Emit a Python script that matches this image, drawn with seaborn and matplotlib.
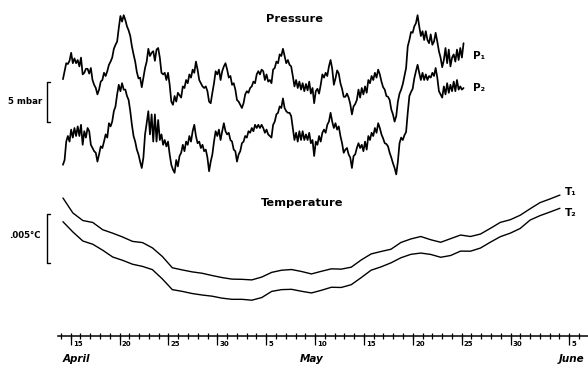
import numpy as np
import pandas as pd
import matplotlib
matplotlib.use("Agg")
import matplotlib.pyplot as plt
import seaborn as sns

# ---------------- data (days counted from 31 March: Apr 15 = 15, May 5 = 35, Jun 5 = 66)
p_start, p_end = 14.21, 55.19          # pressure record, sampled evenly (about every 4 h)
t_start, t_end = 14.21, 65.05          # temperature record, sampled evenly (about daily)

# pressure, mbar (arbitrary zero)
p1 = [12.6, 13.6, 14.6, 14.5, 14.9, 15.9, 14.6, 15.2, 14.6, 15.0,
      14.2, 15.3, 13.2, 13.4, 13.9, 13.9, 13.3, 14.0, 12.5, 11.9,
      11.5, 10.7, 11.3, 12.3, 12.5, 13.4, 13.0, 13.6, 14.4, 14.8,
      15.3, 16.4, 16.9, 17.3, 19.0, 20.5, 19.8, 20.6, 20.0, 19.2,
      18.7, 18.0, 16.7, 15.7, 14.8, 13.5, 12.7, 12.8, 11.6, 12.8,
      14.0, 14.8, 16.4, 15.5, 15.9, 16.1, 14.9, 16.3,
      16.5, 15.3, 13.4, 13.2, 13.4, 12.5, 13.4, 11.9, 9.8, 9.4,
      10.5, 9.8, 10.9, 10.6, 10.3, 11.7, 11.5, 12.5, 12.1, 13.2,
      12.8, 13.8, 13.4, 14.8, 13.8, 12.5, 12.1, 11.7, 11.5, 11.7,
      11.1, 9.8, 9.6, 10.9, 12.1, 13.6, 13.2, 13.8, 12.5, 13.6,
      14.2, 14.6, 13.8, 12.8, 13.0, 11.9, 12.1, 11.3, 10.0, 9.8,
      9.4, 9.0, 9.6, 10.7, 11.1, 10.9, 11.5, 11.7, 12.3, 12.1,
      13.2,
      13.6, 13.2, 13.8, 13.6, 12.5, 13.2, 12.3, 12.5, 12.1, 13.8,
      14.0, 14.8, 14.6, 15.7, 15.5, 16.4, 15.5, 14.6, 15.0, 14.4,
      14.2, 13.0, 11.7, 12.5, 11.5, 12.3, 11.3, 12.1, 11.1, 12.0,
      11.2, 12.3, 10.8, 11.5, 9.6, 11.1, 11.4, 10.8, 11.9, 13.2,
      12.8, 13.4, 13.0, 14.2, 15.0, 13.9, 11.9, 12.7, 13.7, 13.3,
      12.1, 11.4, 10.4, 10.4, 10.8, 10.3, 9.5, 8.2, 9.2, 9.5,
      10.0,
      11.3, 10.3, 11.5, 10.7, 11.7, 10.9, 12.5, 12.1, 13.0, 12.5,
      13.4, 12.8, 13.8, 13.2, 12.3, 11.6, 11.3, 10.5, 10.4, 10.0,
      8.8, 8.2, 7.3, 8.0, 9.8, 10.8, 11.3, 12.0, 13.0, 14.0,
      16.7, 17.5, 18.5, 18.4, 19.2, 19.6, 20.6, 19.2, 18.0, 18.6,
      17.5, 18.6, 17.5, 17.1, 18.2, 16.9, 17.3, 18.4, 17.3, 16.1,
      15.3, 14.1, 15.0, 16.5, 14.6, 16.3, 14.2, 15.3, 15.7, 14.8,
      16.3, 15.0, 16.5, 15.3, 17.1]

p2 = [1.9, 2.5, 4.8, 5.5, 4.8, 6.3, 5.3, 6.5, 5.5, 6.7,
      5.5, 6.9, 4.4, 6.1, 5.3, 6.5, 6.1, 4.4, 4.0, 3.6,
      3.4, 2.3, 3.2, 4.2, 4.0, 4.8, 5.7, 5.3, 7.1, 6.7,
      7.3, 8.6, 9.2, 10.7, 11.9, 11.1, 12.1, 11.3, 11.3, 10.5,
      10.0, 8.6, 6.9, 5.5, 4.8, 3.8, 3.2, 2.3, 1.5, 2.8,
      5.7, 7.1, 8.6, 5.7, 8.2, 4.8, 8.2, 4.8,
      7.5, 5.0, 5.7, 4.4, 5.0, 4.2, 4.8, 3.2, 1.9, 1.3,
      0.9, 2.5, 1.7, 3.0, 3.4, 4.4, 3.6, 4.8, 4.4, 5.5,
      4.8, 6.1, 6.9, 5.5, 4.6, 4.8, 4.0, 4.4, 3.6, 3.8,
      2.8, 1.1, 2.3, 3.2, 4.8, 6.1, 5.5, 6.3, 5.0, 6.1,
      7.1, 6.1, 5.7, 5.9, 5.0, 4.8, 3.8, 3.6, 2.3, 3.2,
      3.6, 4.6, 4.8, 5.5, 5.3, 6.1, 5.9, 6.5, 6.1, 6.9,
      6.5,
      6.9, 6.5, 6.9, 6.5, 5.9, 6.3, 5.7, 5.5, 5.3, 6.9,
      7.3, 8.2, 8.4, 9.2, 9.0, 10.2, 9.0, 8.6, 8.4, 8.4,
      8.0, 6.5, 5.0, 5.9, 4.8, 6.1, 5.0, 6.1, 5.0, 5.7,
      5.0, 5.9, 4.6, 5.0, 3.0, 4.8, 4.4, 5.5, 4.8, 5.9,
      6.3, 5.9, 6.9, 7.3, 8.4, 7.3, 6.5, 7.1, 6.3, 6.7,
      5.5, 4.6, 3.4, 3.8, 4.0, 3.2, 2.8, 1.5, 3.0, 3.2,
      4.0,
      4.6, 4.0, 4.4, 3.6, 4.8, 3.8, 5.5, 5.0, 5.9, 5.5,
      6.5, 5.9, 7.1, 6.5, 5.7, 5.2, 4.6, 4.5, 4.2, 3.4,
      2.8, 2.1, 1.5, 0.7, 2.3, 4.6, 5.3, 5.0, 5.6, 6.0,
      8.4, 10.5, 11.0, 11.4, 12.7, 13.6, 14.4, 13.4, 12.5, 13.4,
      12.5, 13.2, 12.5, 13.0, 12.8, 13.4, 13.0, 14.0, 12.8, 11.1,
      10.7, 10.3, 11.7, 10.7, 12.1, 10.9, 11.9, 11.1, 12.3, 11.1,
      12.5, 11.3, 11.7, 11.3, 11.5]

# temperature, thousandths of a degree C (arbitrary zero)
t1 = [10.92, 9.39, 8.62, 8.42, 7.68, 7.33, 6.94, 6.49, 6.37, 5.83,
      4.95, 3.80, 3.58, 3.38, 3.24, 3.01, 2.80, 2.64, 2.62, 2.56,
      2.85, 3.33, 3.55, 3.62, 3.42, 3.17, 3.44, 3.69, 3.66, 3.86,
      4.59, 5.21, 5.46, 5.69, 6.38, 6.74, 6.99, 6.66, 6.40, 6.77,
      7.14, 6.99, 7.24, 7.82, 8.43, 8.70, 9.16, 9.82, 10.45, 10.82,
      11.22]
t2 = [8.50, 7.45, 6.53, 6.20, 5.59, 4.90, 4.56, 4.16, 3.94, 3.61,
      2.66, 1.57, 1.39, 1.17, 1.02, 0.90, 0.70, 0.58, 0.58, 0.49,
      0.76, 1.39, 1.57, 1.60, 1.40, 1.23, 1.50, 1.81, 1.79, 2.07,
      2.79, 3.55, 3.89, 4.30, 4.82, 5.17, 5.30, 5.16, 4.87, 5.05,
      5.50, 5.49, 5.81, 6.41, 6.97, 7.33, 7.81, 8.67, 9.12, 9.49,
      9.87]

tick_days = [15, 20, 25, 30, 35, 40, 45, 50, 55, 60, 66]
tick_labels = ["15", "20", "25", "30", "5", "10", "15", "20", "25", "30", "5"]
months = ["April", "May", "June"]
month_days = [15.6, 39.7, 66.2]
scale_p = 5      # mbar
scale_t = 5      # 0.001 degC

# ---------------- build frames
p_days = np.linspace(p_start, p_end, len(p1))
t_days = np.linspace(t_start, t_end, len(t1))
df_p = pd.DataFrame({"day": p_days, "P1": p1, "P2": p2})
df_t = pd.DataFrame({"day": t_days, "T1": t1, "T2": t2})

sns.set_style("white")
plt.rcParams["font.family"] = ["DejaVu Sans"]
plt.rcParams["text.color"] = "black"
plt.rcParams["axes.edgecolor"] = "black"
plt.rcParams["xtick.color"] = "black"

fig = plt.figure(figsize=(5.88, 3.68), dpi=100)
W, H = 588, 368
xl = (7.77, 67.92)

ax_p = fig.add_axes([0, (H - 180) / H, 1, 180 / H])
ax_t = fig.add_axes([0, (H - 336) / H, 1, (336 - 185) / H])
for ax in (ax_p, ax_t):
    ax.set_facecolor("none")
    ax.set_xlim(*xl)
ax_p.set_ylim(0, 22.5)
ax_t.set_ylim(-3.163, 12.245)

kw = dict(color="black", estimator=None, legend=False)
sns.lineplot(data=df_p, x="day", y="P1", ax=ax_p, lw=1.25, **kw)
sns.lineplot(data=df_p, x="day", y="P2", ax=ax_p, lw=1.25, **kw)
sns.lineplot(data=df_t, x="day", y="T1", ax=ax_t, lw=1.0, **kw)
sns.lineplot(data=df_t, x="day", y="T2", ax=ax_t, lw=1.0, **kw)

# pressure axes: no frame
ax_p.set_axis_off()

# temperature axes carries the date axis
for s in ("top", "left", "right"):
    ax_t.spines[s].set_visible(False)
ax_t.spines["bottom"].set_color("black")
ax_t.spines["bottom"].set_linewidth(1.1)
ax_t.spines["bottom"].set_bounds(13.75, xl[1])
ax_t.set_yticks([])
ax_t.set_xlabel("")
ax_t.set_ylabel("")
ax_t.set_xticks(tick_days)
ax_t.set_xticks(np.arange(14, 68), minor=True)
ax_t.xaxis.remove_overlapping_locs = False
ax_t.tick_params(axis="x", which="major", direction="out", length=6.5,
                 width=0.9, labelbottom=False, color="black", bottom=True)
ax_t.tick_params(axis="x", which="minor", direction="inout", length=4.5,
                 width=0.9, color="black", bottom=True)
for d, lab in zip(tick_days, tick_labels):
    ax_t.annotate(lab, xy=(d, 0), xycoords=("data", "axes fraction"),
                  xytext=(1.6, -6.0), textcoords="offset points",
                  ha="left", va="center", fontsize=5.0, fontweight="bold",
                  color="black")
for d, m in zip(month_days, months):
    ax_t.annotate(m, xy=(d, 0), xycoords=("data", "axes fraction"),
                  xytext=(0, -16.5), textcoords="offset points",
                  ha="center", va="center", fontsize=7.5,
                  fontweight="bold", fontstyle="italic", color="black")

# titles
ax_p.text(37.87, 20.1, "Pressure", ha="center", va="center",
          fontsize=8.2, fontweight="bold", color="black")
ax_t.text(38.63, 10.41, "Temperature", ha="center", va="center",
          fontsize=8.2, fontweight="bold", color="black")

# scale brackets
bx, sx = 12.58, 0.3
ptop = 12.29
ax_p.plot([bx + sx, bx, bx, bx + sx], [ptop, ptop, ptop - scale_p, ptop - scale_p],
          color="black", lw=1.0, clip_on=False)
ax_p.text(10.33, ptop - scale_p / 2, f"{scale_p} mbar", ha="center", va="center",
          fontsize=6.2, fontweight="bold", color="black")
ttop = 9.29
ax_t.plot([bx + sx, bx, bx, bx + sx], [ttop, ttop, ttop - scale_t, ttop - scale_t],
          color="black", lw=1.0, clip_on=False)
ax_t.text(10.33, ttop - scale_t / 2 + 0.3, ".005°C", ha="center", va="center",
          fontsize=6.2, fontweight="bold", color="black")

# series labels
ax_p.text(56.15, 15.5, "P₁", ha="left", va="center", fontsize=7.5,
          fontweight="bold", color="black")
ax_p.text(56.15, 11.5, "P₂", ha="left", va="center", fontsize=7.5,
          fontweight="bold", color="black")
ax_t.text(65.56, 11.53, "T₁", ha="left", va="center", fontsize=7.5,
          fontweight="bold", color="black")
ax_t.text(65.56, 9.39, "T₂", ha="left", va="center", fontsize=7.5,
          fontweight="bold", color="black")

fig.savefig("out.png", dpi=100)
